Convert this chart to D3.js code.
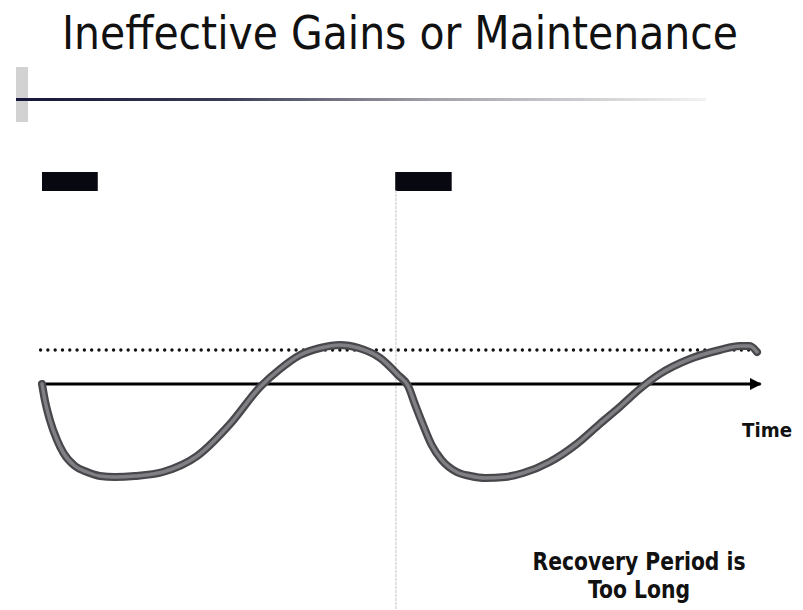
<!DOCTYPE html>
<html>
<head>
<meta charset="utf-8">
<script src="https://cdn.jsdelivr.net/npm/d3@7"></script>
<style>
  body { margin: 0; background: #fff; }
  svg { display: block; }
</style>
</head>
<body>
<div id="chart"></div>
<script>
// time (0-100) and performance level relative to baseline (0)
var timePoints = [0, 0.4, 1.1, 2.1, 3.0, 4.6, 6.3, 8.1, 10.2, 13.0, 16.9, 21.7, 26.3, 30.5, 33.3, 36.1, 38.9, 41.7, 44.3, 47.3, 49.8, 51.2, 52.2, 53.3, 54.5, 55.9, 58.0, 59.9, 62.0, 64.8, 67.3, 71.0, 74.6, 78.0, 80.8, 83.6, 86.4, 90.6, 94.8, 97.6, 99.0, 100];
var levelValues = [0, -16, -36, -56, -69, -82, -88, -92, -93, -92, -88, -72, -40, -3, 15, 29, 36, 39, 36, 26, 9, -2, -21, -41, -61, -76, -88, -92, -94, -93, -89, -78, -61, -40, -23, -5, 10, 25, 34, 38, 38, 32];
var baselineLevel = 0;
var targetLevel = 34;
var stimulusStart = [0, 49.4];
var stimulusEnd = [7.8, 57.3];
var secondStimulus = 49.5;
var titleText = "Ineffective Gains or Maintenance";
var axisLabel = "Time";
var noteLines = ["Recovery Period is", "Too Long"];

(function() {
  var svg, x, y, line, defs, grad, pts;

  svg = d3.select("#chart").append("svg").attr("width", 803).attr("height", 610);

  x = d3.scaleLinear().domain([0, 100]).range([42, 757]);
  y = d3.scaleLinear().domain([-100, 40]).range([484, 344]);

  defs = svg.append("defs");
  grad = defs.append("linearGradient").attr("id", "rule").attr("x1", "0").attr("x2", "1").attr("y1", "0").attr("y2", "0");
  grad.append("stop").attr("offset", "0").attr("stop-color", "#15153a");
  grad.append("stop").attr("offset", "0.3").attr("stop-color", "#3a3a55");
  grad.append("stop").attr("offset", "0.6").attr("stop-color", "#a0a0a8");
  grad.append("stop").attr("offset", "1").attr("stop-color", "#f2f2f2");

  defs.append("marker").attr("id", "arrow").attr("viewBox", "0 0 10 10").attr("refX", 9).attr("refY", 5)
    .attr("markerWidth", 4).attr("markerHeight", 4.6).attr("markerUnits", "strokeWidth").attr("orient", "auto")
    .append("path").attr("d", "M0,0L10,5L0,10Z").attr("fill", "#000");

  // title + header rule
  svg.append("text").attr("x", 400).attr("y", 49).attr("text-anchor", "middle")
    .attr("font-family", "'DejaVu Sans Condensed', 'DejaVu Sans', sans-serif").attr("font-stretch", "condensed")
    .attr("font-size", 47).attr("fill", "#111")
    .attr("textLength", 676).attr("lengthAdjust", "spacingAndGlyphs").text(titleText);

  svg.append("rect").attr("x", 16).attr("y", 67).attr("width", 12).attr("height", 55).attr("fill", "#d2d2d2");
  svg.append("rect").attr("x", 16).attr("y", 98).attr("width", 690).attr("height", 3).attr("fill", "url(#rule)");

  // stimulus bars
  svg.selectAll(".stim").data(stimulusStart).enter().append("rect").attr("class", "stim")
    .attr("x", function(d) { return x(d); })
    .attr("y", 172)
    .attr("width", function(d, i) { return x(stimulusEnd[i]) - x(d); })
    .attr("height", 19)
    .attr("fill", "#080810");

  svg.append("line").attr("x1", x(secondStimulus)).attr("x2", x(secondStimulus)).attr("y1", 190).attr("y2", 610)
    .attr("stroke", "#c4c4c4").attr("stroke-width", 1).attr("stroke-dasharray", "3,1");

  // target level (dotted)
  svg.append("line").attr("x1", x(-0.2)).attr("x2", x(100)).attr("y1", y(targetLevel)).attr("y2", y(targetLevel))
    .attr("stroke", "#111").attr("stroke-width", 3.4).attr("stroke-linecap", "round").attr("stroke-dasharray", "0,7.3");

  // time axis with arrow
  svg.append("line").attr("x1", x(0)).attr("x2", x(100.5)).attr("y1", y(baselineLevel)).attr("y2", y(baselineLevel))
    .attr("stroke", "#000").attr("stroke-width", 3).attr("marker-end", "url(#arrow)");

  pts = timePoints.map(function(t, i) { return [t, levelValues[i]]; });
  line = d3.line().x(function(d) { return x(d[0]); }).y(function(d) { return y(d[1]); }).curve(d3.curveMonotoneX);

  svg.append("path").datum(pts).attr("d", line).attr("fill", "none").attr("stroke", "#48484c")
    .attr("stroke-width", 8).attr("stroke-linecap", "round").attr("stroke-linejoin", "round");
  svg.append("path").datum(pts).attr("d", line).attr("fill", "none").attr("stroke", "#808084")
    .attr("stroke-width", 3.5).attr("stroke-linecap", "round").attr("stroke-linejoin", "round");

  svg.append("text").attr("x", 742).attr("y", 437)
    .attr("font-family", "'DejaVu Sans Condensed', 'DejaVu Sans', sans-serif").attr("font-weight", "bold")
    .attr("font-size", 20).attr("fill", "#111").attr("textLength", 50).attr("lengthAdjust", "spacingAndGlyphs").text(axisLabel);

  svg.selectAll(".note").data(noteLines).enter().append("text").attr("class", "note")
    .attr("x", 639).attr("y", function(d, i) { return 570 + i * 28; }).attr("text-anchor", "middle")
    .attr("font-family", "'DejaVu Sans Condensed', 'DejaVu Sans', sans-serif").attr("font-weight", "bold")
    .attr("font-size", 24).attr("fill", "#111")
    .attr("textLength", function(d, i) { return i === 0 ? 213 : 102; }).attr("lengthAdjust", "spacingAndGlyphs")
    .text(function(d) { return d; });
}).call(this);
</script>
</body>
</html>
